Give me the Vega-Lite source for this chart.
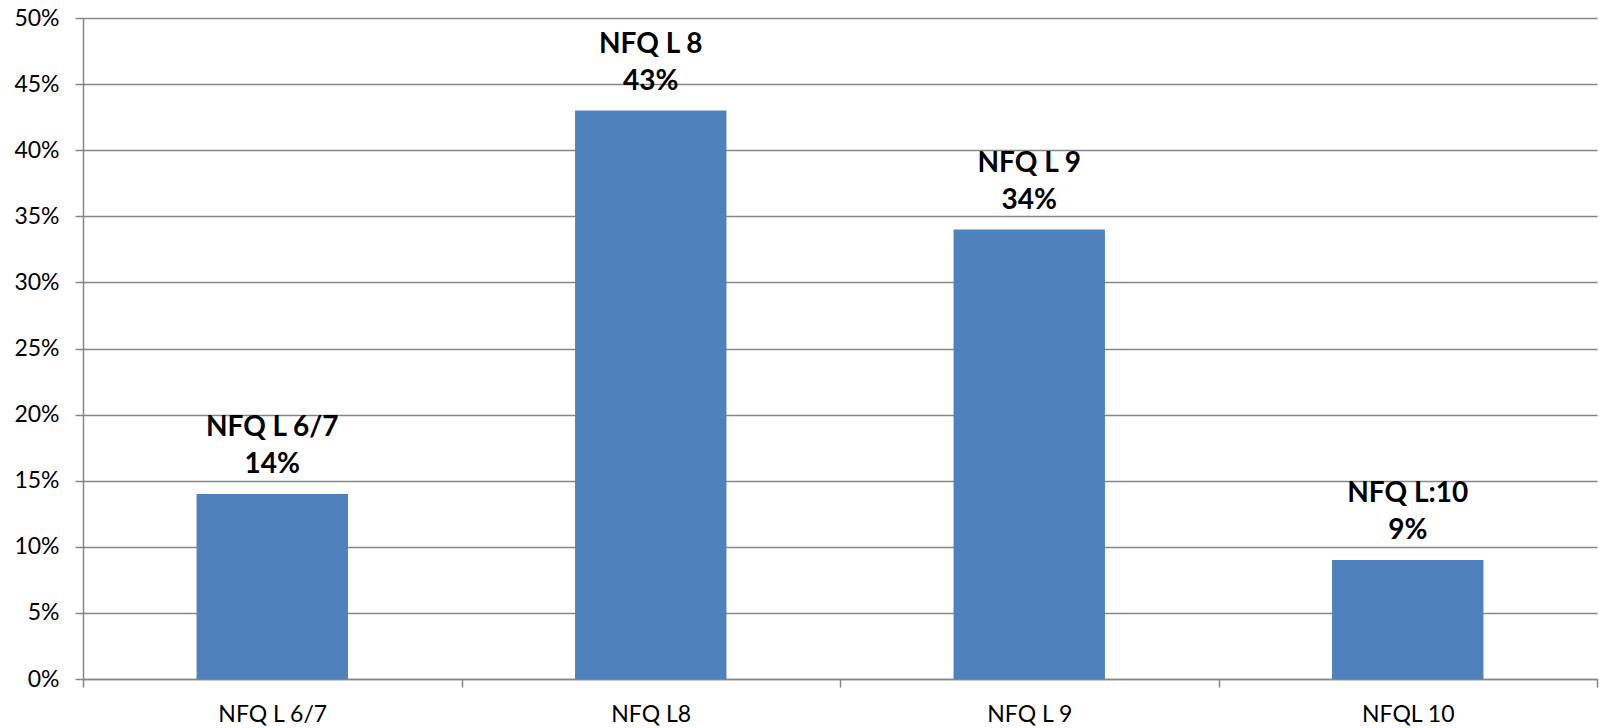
{
  "$schema": "https://vega.github.io/schema/vega-lite/v6.json",
  "autosize": {"type": "none"},
  "padding": {"left": 83, "top": 18, "right": 2, "bottom": 49},
  "width": 1514,
  "height": 661,
  "background": "white",
  "config": {"view": {"stroke": null}, "font": "Lato"},
  "data": {
    "values": [
      {"category": "NFQ L 6/7", "value": 0.14, "label": ["NFQ L 6/7", "14%"]},
      {"category": "NFQ L8", "value": 0.43, "label": ["NFQ L 8", "43%"]},
      {"category": "NFQ L 9", "value": 0.34, "label": ["NFQ L 9", "34%"]},
      {"category": "NFQL 10", "value": 0.09, "label": ["NFQ L:10", "9%"]}
    ]
  },
  "encoding": {
    "x": {
      "field": "category",
      "type": "nominal",
      "sort": null,
      "scale": {"paddingInner": 0, "paddingOuter": 0},
      "axis": {
        "title": null,
        "labelAngle": 0,
        "labelFont": "Lato",
        "labelFontSize": 23,
        "labelColor": "#000000",
        "labelPadding": 16,
        "tickBand": "extent",
        "tickSize": 8,
        "tickColor": "#868686",
        "tickWidth": 1.5,
        "domainColor": "#868686",
        "domainWidth": 1.5,
        "grid": false
      }
    },
    "y": {
      "field": "value",
      "type": "quantitative",
      "scale": {"domain": [0, 0.5], "nice": false},
      "axis": {
        "title": null,
        "format": ".0%",
        "values": [0, 0.05, 0.1, 0.15, 0.2, 0.25, 0.3, 0.35, 0.4, 0.45, 0.5],
        "labelFont": "Lato",
        "labelFontSize": 23,
        "labelColor": "#000000",
        "labelPadding": 16,
        "tickSize": 8,
        "tickColor": "#868686",
        "tickWidth": 1.5,
        "domainColor": "#868686",
        "domainWidth": 1.5,
        "grid": true,
        "gridColor": "#868686",
        "gridWidth": 1.5
      }
    }
  },
  "layer": [
    {
      "mark": {"type": "bar", "color": "#4F81BD", "width": {"band": 0.4}}
    },
    {
      "mark": {
        "type": "text",
        "baseline": "bottom",
        "align": "center",
        "dy": -52,
        "fontSize": 28,
        "fontWeight": "bold",
        "font": "Lato",
        "lineHeight": 37,
        "color": "#000000"
      },
      "encoding": {"text": {"field": "label"}}
    }
  ]
}
